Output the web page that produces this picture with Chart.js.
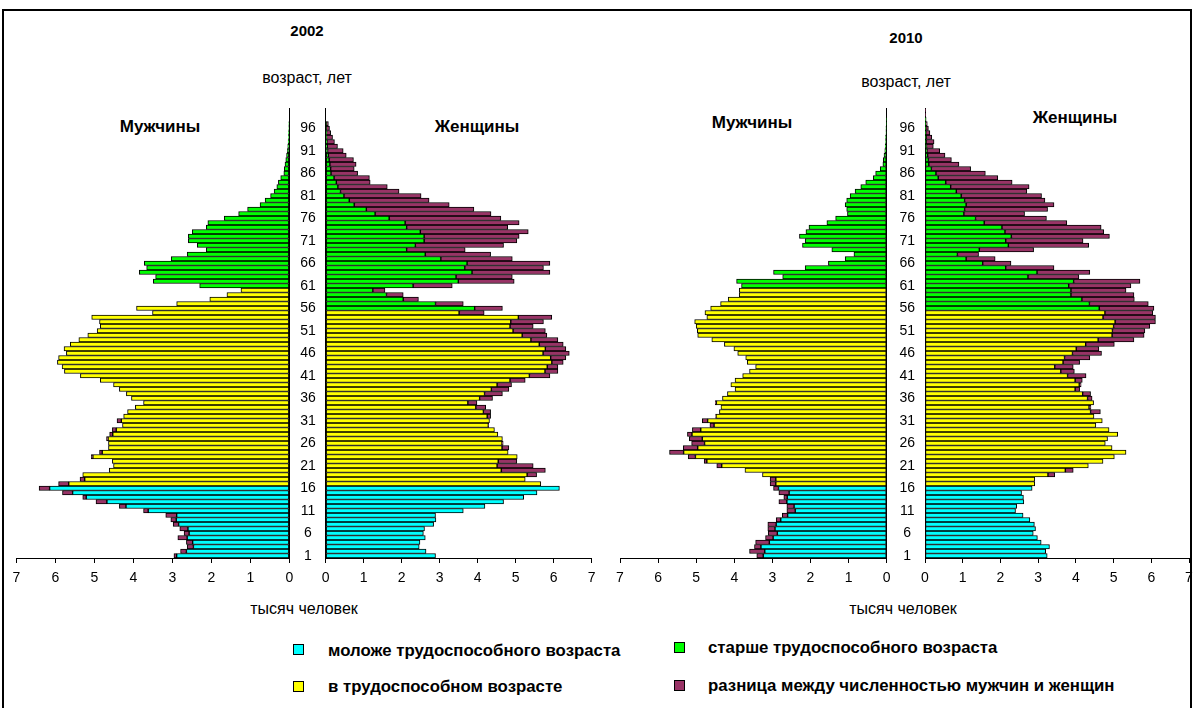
<!DOCTYPE html>
<html><head><meta charset="utf-8">
<script src="https://cdn.jsdelivr.net/npm/chart.js@4.4.1/dist/chart.umd.min.js"></script>
<style>
html,body{margin:0;padding:0;background:#fff;}
body{width:1193px;height:708px;overflow:hidden;position:relative;font-family:"Liberation Sans",Arial,sans-serif;color:#000;}
#frame{position:absolute;left:2px;top:9px;width:1190px;height:720px;border:2px solid #000;box-sizing:border-box;}
canvas{position:absolute;}
.t{position:absolute;white-space:nowrap;transform:translate(-50%,-50%);}
.b{font-weight:bold;}
.lt{position:absolute;white-space:nowrap;transform:translateY(-50%);font-weight:bold;font-size:16.8px;}
.sq{position:absolute;width:9px;height:9px;border:1px solid #000;}
</style></head>
<body>
<div id="frame"></div>
<div class="t b" style="left:307px;top:30px;font-size:15px;">2002</div>
<div class="t b" style="left:906px;top:37px;font-size:15px;">2010</div>
<div class="t" style="left:307px;top:78px;font-size:16px;">возраст, лет</div>
<div class="t" style="left:906px;top:82px;font-size:16px;">возраст, лет</div>
<div class="t b" style="left:160px;top:127px;font-size:17px;">Мужчины</div>
<div class="t b" style="left:477px;top:127px;font-size:17px;">Женщины</div>
<div class="t b" style="left:752px;top:123px;font-size:17px;">Мужчины</div>
<div class="t b" style="left:1075px;top:118px;font-size:17px;">Женщины</div>
<div class="t" style="left:304px;top:609px;font-size:16px;">тысяч человек</div>
<div class="t" style="left:903px;top:609px;font-size:16px;">тысяч человек</div>

<div class="sq" style="left:293px;top:644px;background:#00FFFF;"></div>
<div class="lt" style="left:328px;top:651px;">моложе трудоспособного возраста</div>
<div class="sq" style="left:674px;top:642px;background:#00FF00;"></div>
<div class="lt" style="left:708px;top:648px;">старше трудоспособного возраста</div>
<div class="sq" style="left:293px;top:681px;background:#FFFF00;"></div>
<div class="lt" style="left:328px;top:687px;">в трудоспособном возрасте</div>
<div class="sq" style="left:674px;top:680px;background:#993366;"></div>
<div class="lt" style="left:708px;top:686px;">разница между численностью мужчин и женщин</div>

<canvas id="m2002" width="300" height="510" style="left:0px;top:90px;"></canvas>
<canvas id="f2002" width="320" height="510" style="left:280px;top:90px;"></canvas>
<canvas id="m2010" width="300" height="510" style="left:600px;top:90px;"></canvas>
<canvas id="f2010" width="315" height="510" style="left:878px;top:90px;"></canvas>

<script>
// ---- categories (age, years) ----
const ages = [1,2,3,4,5,6,7,8,9,10,11,12,13,14,15,16,17,18,19,20,
21,22,23,24,25,26,27,28,29,30,31,32,33,34,35,36,37,38,39,40,
41,42,43,44,45,46,47,48,49,50,51,52,53,54,55,56,57,58,59,60,
61,62,63,64,65,66,67,68,69,70,71,72,73,74,75,76,77,78,79,80,
81,82,83,84,85,86,87,88,89,90,91,92,93,94,95,96,97,98,99,100];
const ageTickLabels = [1,6,11,16,21,26,31,36,41,46,51,56,61,66,71,76,81,86,91,96];
const xTickValues = [0,1,2,3,4,5,6,7];
const youngMaxAge = 16;
const maleWorkMaxAge = 60;
const femaleWorkMaxAge = 55;

// ---- thousand persons, 2002 ----
const male2002 = [2.96,2.79,2.62,2.64,2.86,2.70,2.81,2.98,3.04,3.17,
3.74,4.36,4.96,5.30,5.82,6.42,5.92,5.37,5.30,4.62,
4.51,4.54,5.08,4.87,4.64,4.64,4.69,4.61,4.54,4.28,
4.42,4.25,4.15,3.95,3.74,4.05,4.18,4.36,4.51,4.85,
5.36,5.77,5.83,5.95,5.92,5.72,5.78,5.62,5.40,5.17,
4.93,4.85,4.87,5.07,3.51,3.92,2.89,2.04,1.60,1.24,
2.30,3.49,3.43,3.85,3.66,3.72,3.03,2.62,2.13,2.36,
2.59,2.59,2.49,2.13,2.09,1.67,1.30,1.07,0.75,0.62,
0.48,0.39,0.32,0.28,0.22,0.14,0.13,0.11,0.09,0.07,
0.05,0.04,0.03,0.02,0.02,0.01,0.01,0,0,0];
const female2002 = [2.89,2.64,2.46,2.48,2.62,2.57,2.60,2.84,2.90,2.89,
3.62,4.19,4.68,5.21,5.56,6.15,5.66,5.25,5.55,5.78,
5.46,5.03,5.04,4.80,4.82,4.67,4.65,4.53,4.44,4.29,
4.31,4.34,4.34,4.21,3.98,4.39,4.65,4.82,4.89,5.25,
5.90,6.11,6.11,6.25,6.32,6.41,6.32,6.25,6.11,5.82,
5.78,5.46,5.73,5.95,4.17,4.65,3.62,2.44,2.04,1.56,
3.33,4.96,4.91,5.90,5.73,5.90,4.91,4.34,3.67,4.68,
5.03,5.09,5.33,4.79,5.09,4.61,4.35,3.90,3.25,2.72,
2.51,1.93,1.62,1.17,1.15,0.84,0.75,0.80,0.73,0.54,
0.46,0.31,0.23,0.18,0.13,0.10,0.07,0,0,0];

// ---- thousand persons, 2010 ----
const male2010 = [3.41,3.60,3.47,3.44,3.18,3.11,3.12,3.12,2.90,2.74,
2.62,2.62,2.83,2.70,2.83,2.97,3.06,3.06,3.26,3.72,
4.46,4.79,5.21,5.70,5.34,5.12,5.18,5.23,5.10,4.64,
4.84,4.49,4.39,4.35,4.50,4.31,4.18,3.98,4.09,3.98,
3.78,3.60,3.44,3.66,3.70,3.91,4.01,4.26,4.59,4.96,
4.97,5.00,5.04,4.72,4.77,4.62,4.36,4.16,3.87,3.87,
3.81,3.94,2.73,2.97,2.14,1.53,1.09,0.86,1.44,2.21,
2.14,2.29,2.12,2.04,1.57,1.34,1.03,1.05,1.09,1.05,
0.96,0.83,0.68,0.55,0.35,0.29,0.17,0.10,0.09,0.07,
0.05,0.04,0.03,0.03,0.02,0.02,0.01,0.01,0,0];
const female2010 = [3.24,3.20,3.30,3.08,2.98,2.87,2.93,2.90,2.78,2.60,
2.40,2.43,2.62,2.61,2.56,2.84,2.91,2.91,3.44,3.93,
4.33,4.72,5.02,5.33,4.96,4.78,4.84,5.11,4.88,4.53,
4.70,4.48,4.65,4.40,4.47,4.43,4.39,4.10,4.14,4.17,
4.27,3.96,3.93,4.10,4.37,4.68,4.61,5.02,5.54,5.81,
5.83,5.96,6.11,6.11,6.04,6.07,5.92,5.55,5.54,5.33,
5.46,5.70,4.08,4.37,3.42,2.28,1.86,1.42,2.88,4.34,
4.19,4.89,4.74,4.67,3.76,3.22,2.64,3.25,3.42,3.18,
3.09,2.70,2.76,2.31,1.93,1.60,1.21,0.90,0.70,0.53,
0.39,0.22,0.24,0.18,0.13,0.09,0.06,0.03,0.02,0.01];

const COLORS = {young:'#00FFFF', work:'#FFFF00', old:'#00FF00', diff:'#993366'};
const FONT = '"Liberation Sans", Arial, sans-serif';

function buildDatasets(own, other, workMax) {
  const young = [], work = [], old = [], diff = [];
  ages.forEach((a, i) => {
    const common = Math.min(own[i], other[i]);
    young.push(a <= youngMaxAge ? common : null);
    work.push(a > youngMaxAge && a <= workMax ? common : null);
    old.push(a > workMax ? common : null);
    diff.push(own[i] > other[i] ? own[i] - other[i] : null);
  });
  const base = {borderColor:'#000', borderWidth:1, borderSkipped:false,
                barPercentage:1, categoryPercentage:1};
  return [
    Object.assign({label:'young', data:young, backgroundColor:COLORS.young}, base),
    Object.assign({label:'work', data:work, backgroundColor:COLORS.work}, base),
    Object.assign({label:'old', data:old, backgroundColor:COLORS.old}, base),
    Object.assign({label:'diff', data:diff, backgroundColor:COLORS.diff}, base)
  ];
}

function panel(id, own, other, workMax, isMale, pad, yWidth) {
  new Chart(document.getElementById(id), {
    type: 'bar',
    data: {labels: ages, datasets: buildDatasets(own, other, workMax)},
    options: {
      indexAxis: 'y', responsive: false, animation: false,
      layout: {padding: pad},
      plugins: {legend: {display: false}, tooltip: {enabled: false}},
      scales: {
        x: {
          type: 'linear', stacked: true, min: 0, max: 7, reverse: isMale,
          afterBuildTicks: s => { s.ticks = xTickValues.map(v => ({value: v})); },
          ticks: {color: '#000', font: {family: FONT, size: 14}, padding: 7, maxRotation: 0},
          grid: {drawOnChartArea: false, drawTicks: true, tickLength: 5, color: '#000'},
          border: {display: true, color: '#000', width: 1},
          afterFit: s => { s.height = 40; s.paddingLeft = 0; s.paddingRight = 0; }
        },
        y: {
          type: 'category', stacked: true, reverse: true,
          position: isMale ? 'right' : 'left',
          ticks: {
            display: !isMale, autoSkip: false, color: '#000',
            font: {family: FONT, size: 14}, padding: 10, crossAlign: 'center',
            callback: (v, i) => ageTickLabels.includes(ages[i]) ? String(ages[i]) : ''
          },
          grid: {drawOnChartArea: false, drawTicks: false},
          border: {display: true, color: '#000', width: 1},
          afterFit: s => { s.width = yWidth; s.paddingTop = 0; s.paddingBottom = 0; }
        }
      }
    }
  });
}

panel('m2002', male2002, female2002, maleWorkMaxAge, true,
      {left: 16.5, right: 10.7, top: 18, bottom: 2}, 0);
panel('f2002', female2002, male2002, femaleWorkMaxAge, false,
      {left: 9.3, right: 8.3, top: 18, bottom: 2}, 36.4);
panel('m2010', male2010, female2010, maleWorkMaxAge, true,
      {left: 20, right: 13.3, top: 18, bottom: 2}, 0);
panel('f2010', female2010, male2010, femaleWorkMaxAge, false,
      {left: 8.7, right: 4, top: 18, bottom: 2}, 38.3);
</script>
</body></html>
